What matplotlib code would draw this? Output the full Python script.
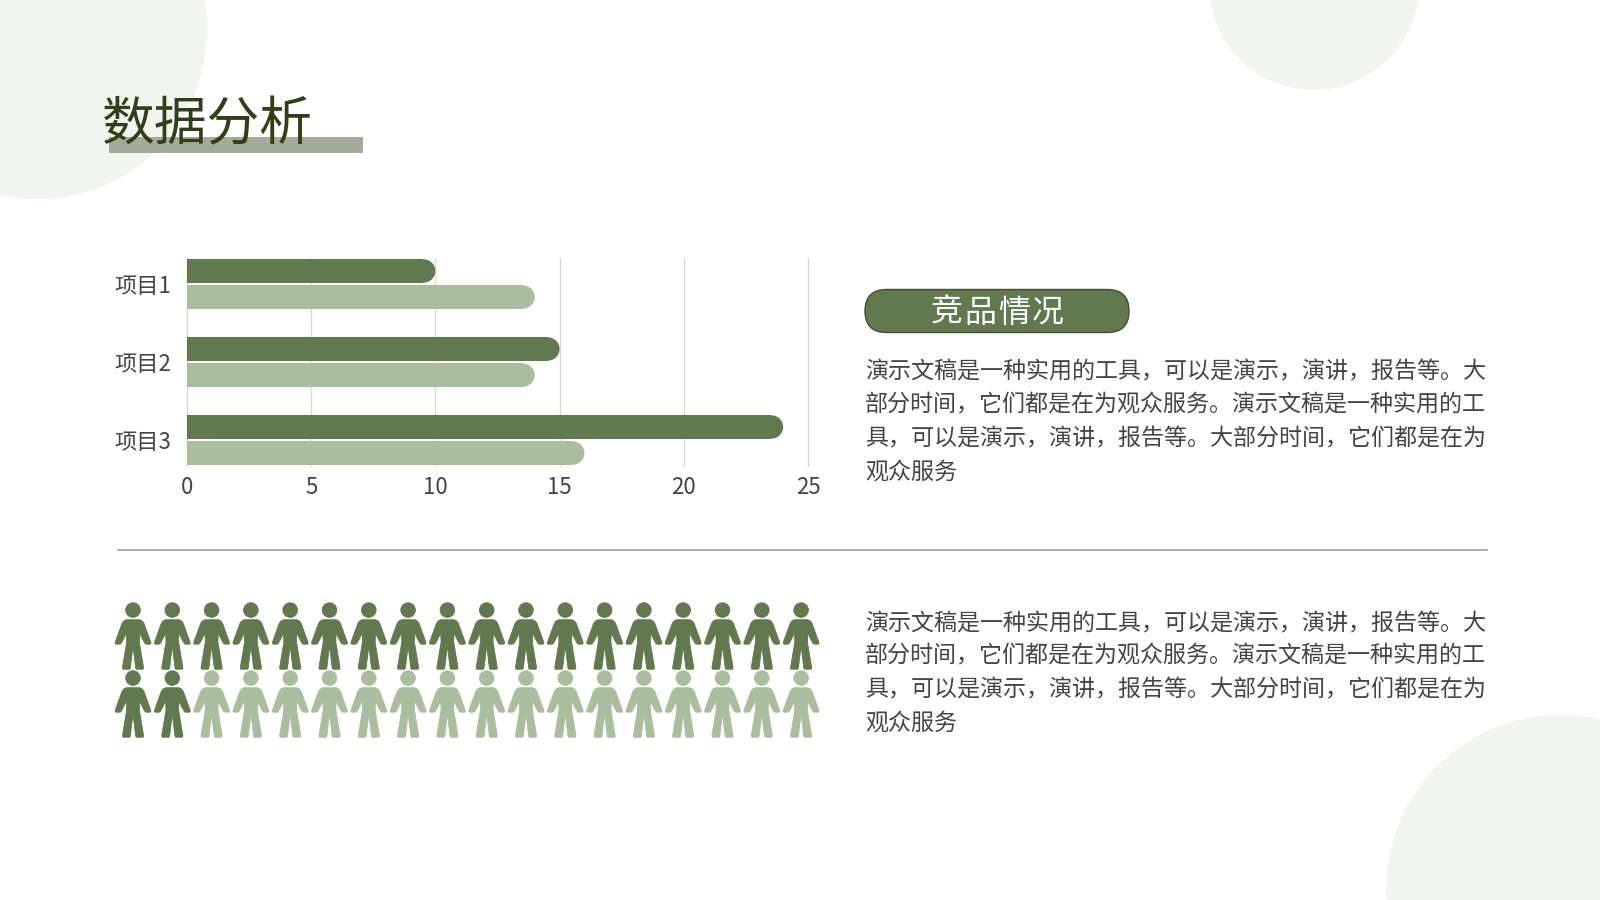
import matplotlib
matplotlib.use('Agg')
import matplotlib.pyplot as plt
from matplotlib.patches import Circle, Ellipse, FancyBboxPatch, Rectangle
from matplotlib.path import Path
import numpy as np

plt.rcParams['font.family'] = ['Noto Sans CJK SC', 'DejaVu Sans']

title = '数据分析'
badge = '竞品情况'
categories = ['项目1', '项目2', '项目3']
series_a = [10, 15, 24]
series_b = [14, 14, 16]
x_ticks = [0, 5, 10, 15, 20, 25]
people_total = 36
people_dark = 20
people_cols = 18
para_lines = ['演示文稿是一种实用的工具，可以是演示，演讲，报告等。大',
              '部分时间，它们都是在为观众服务。演示文稿是一种实用的工',
              '具，可以是演示，演讲，报告等。大部分时间，它们都是在为',
              '观众服务']

DARK = '#62784f'
LIGHT = '#abbd9f'
PALE = '#f2f4f0'
TEXT = '#444444'

W, H = 1600, 900
fig = plt.figure(figsize=(16, 9), dpi=100, facecolor='white')


def px_axes(left, top, width, height):
    # axes placed with pixel values measured from the top left corner
    return fig.add_axes([left / W, 1 - (top + height) / H, width / W, height / H])


# background layer, pixel coordinates
bg = fig.add_axes([0, 0, 1, 1])
bg.set_xlim(0, W)
bg.set_ylim(H, 0)
bg.axis('off')

bg.add_patch(Circle((38, 30), 169, color=PALE, lw=0))
bg.add_patch(Circle((1314, -15), 105, color=PALE, lw=0))
bg.add_patch(Circle((1561, 890), 175, color=PALE, lw=0))

bg.add_patch(Rectangle((109, 137), 254, 16, color='#a4ab98', lw=0))
bg.text(102, 125, title, fontsize=38, color='#2f4018', va='center', ha='left')

bg.plot([118, 1487], [549.5, 549.5], color='#999999', lw=1.1)

bg.add_patch(FancyBboxPatch((865, 289.5), 264, 43, boxstyle='round,pad=0,rounding_size=21.5',
                            fc=DARK, ec='#4e4a35', lw=1))
for i, ch in enumerate(badge):
    bg.text(947 + 33.5 * i, 313, ch, fontsize=23, color='white', va='center', ha='center')

for ys in [[372, 405, 439, 472], [623.5, 656, 690, 723]]:
    for line, y in zip(para_lines, ys):
        bg.text(865, y, line, fontsize=16.6, color=TEXT, va='center', ha='left')

# bar chart
ax = px_axes(187, 258, 621, 208)
ax.patch.set_alpha(0)
y = np.arange(len(categories))
bar_h = 0.3
off = 0.167
r_x = 12 / 24.84  # end cap radius in data units

for vals, color, shift in [(series_a, DARK, -off), (series_b, LIGHT, off)]:
    ax.barh(y + shift, np.array(vals) - r_x, height=bar_h, color=color, zorder=3)
    for yy, v in zip(y, vals):
        ax.add_patch(Ellipse((v - r_x, yy + shift), 2 * r_x, bar_h, color=color, lw=0, zorder=3))

ax.set_xlim(0, 25)
ax.set_ylim(2.333, -0.333)
ax.set_xticks(x_ticks)
ax.set_yticks(y)
ax.set_yticklabels(categories)
ax.tick_params(length=0, labelsize=16, labelcolor=TEXT)
ax.tick_params(axis='x', pad=7)
ax.tick_params(axis='y', pad=11.5)
ax.grid(axis='x', color='#d9d9d9', lw=1, zorder=0, clip_on=False)
for s in ['top', 'right', 'bottom']:
    ax.spines[s].set_visible(False)
ax.spines['left'].set_color('#d9d9d9')
ax.set_axisbelow(True)

# people pictogram
right_side = [(0, 49), (20, 49), (28, 45), (33, 38), (54, -20), (53, -24), (47, -25), (37, -24),
              (30, -12), (20, 9), (19, -18), (32, -96), (30, -100), (10, -100), (8, -96), (0, -30)]
left_side = [(-px, py) for px, py in right_side[-2:0:-1]]
outline = right_side + left_side
body = Path(outline + [outline[0]], closed=True)
head = Path.circle((0, 78), 22)
person = Path.make_compound_path(head, body)

rows = np.arange(people_total) // people_cols
cols = np.arange(people_total) % people_cols
colors = [DARK if i < people_dark else LIGHT for i in range(people_total)]

pic = px_axes(113.35, 602, 707.4, 136)
pic.axis('off')
pic.set_xlim(-0.5, people_cols - 0.5)
pic.set_ylim(1.5, -0.5)
pic.scatter(cols, rows, marker=person, s=2290, c=colors, edgecolors=colors, linewidths=0.6, clip_on=False)

fig.savefig('out.png', dpi=100)
